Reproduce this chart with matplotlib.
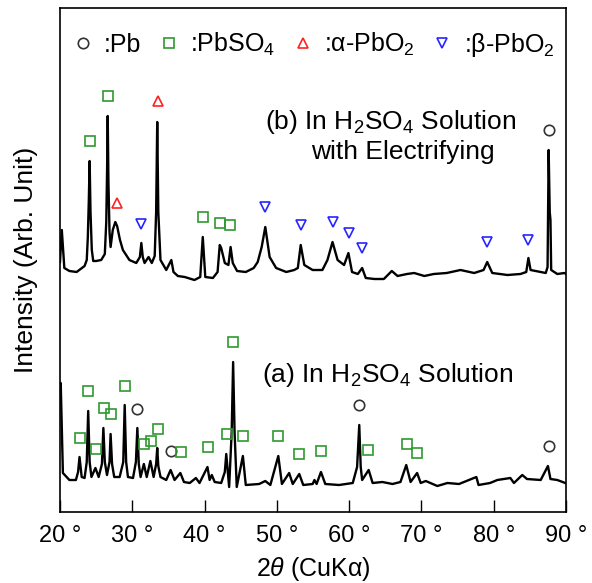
#
# XRD patterns of lead electrode: (a) in H2SO4, (b) in H2SO4 with electrifying
#

import numpy as np
import matplotlib
matplotlib.use('Agg')
import matplotlib.pyplot as plt

plt.rcParams['font.family'] = ['Liberation Sans', 'DejaVu Sans']
plt.rcParams['mathtext.fontset'] = 'custom'
plt.rcParams['mathtext.rm'] = 'Liberation Sans'
plt.rcParams['mathtext.it'] = 'Liberation Sans:italic'

# ---------------------------------------------------------------
# trace (b): In H2SO4 solution with electrifying (2theta, intensity)
# ---------------------------------------------------------------
b_theta = [20.0, 20.25, 20.6, 21.3, 22.3, 23.4, 23.7, 23.85, 23.98, 24.1, 24.22, 24.4, 24.6,
           25.0, 25.7, 26.2, 26.4, 26.52, 26.6, 26.7, 26.85, 27.0, 27.3, 27.65, 27.9, 28.3,
           28.7, 29.6, 30.55, 31.05, 31.25, 31.45, 31.7, 32.25, 32.7, 33.1, 33.3, 33.45, 33.6,
           33.9, 34.7, 35.4, 35.7, 36.3, 37.25, 38.6, 39.4, 39.75, 40.1, 41.15, 41.8, 42.1,
           42.3, 42.8, 43.3, 43.6, 43.9, 44.5, 45.7, 46.8, 47.35, 47.9, 48.4, 49.0, 49.9,
           51.3, 52.4, 52.9, 53.3, 53.8, 54.95, 56.3, 57.0, 57.7, 58.4, 59.3, 59.9, 60.4,
           61.2, 61.8, 62.3, 63.5, 64.8, 65.9, 66.7, 68.0, 69.0, 70.4, 71.7, 73.5, 75.4,
           77.3, 78.6, 79.1, 79.8, 81.9, 83.7, 84.5, 84.8, 85.1, 86.5, 87.2, 87.45, 87.6,
           87.75, 87.85, 87.95, 88.8, 89.8, 90.0]
b_int = [250, 282, 244, 241, 240, 246, 252, 275, 310, 351, 300, 262, 251,
         251, 252, 258, 290, 345, 396, 330, 280, 265, 282, 290, 286, 272,
         262, 252, 249, 255, 269, 255, 249, 255, 249, 256, 300, 390, 300,
         252, 242, 252, 240, 236, 235, 232, 235, 275, 235, 234, 240, 267,
         264, 249, 247, 265, 249, 241, 240, 244, 250, 265, 285, 255, 244,
         240, 242, 244, 267, 247, 242, 242, 252, 270, 252, 247, 259, 240,
         238, 244, 234, 233, 233, 241, 236, 238, 239, 236, 238, 239, 242,
         239, 242, 250, 239, 237, 238, 240, 254, 242, 240, 239, 245, 362,
         300, 292, 242, 238, 239, 238]

# ---------------------------------------------------------------
# trace (a): In H2SO4 solution (2theta, intensity)
# ---------------------------------------------------------------
a_theta = [20.0, 20.1, 20.4, 21.3, 22.2, 22.5, 22.7, 23.0, 23.4, 23.7, 23.9, 24.1, 24.35,
           24.9, 25.35, 25.8, 26.0, 26.2, 26.5, 26.85, 27.0, 27.2, 27.5, 28.25, 28.75, 28.95,
           29.15, 29.4, 30.1, 30.5, 30.7, 30.9, 31.15, 31.6, 32.0, 32.5, 32.95, 33.3, 33.45,
           33.6, 33.9, 34.7, 35.3, 35.85, 36.65, 37.15, 37.95, 38.8, 39.3, 40.4, 40.7, 41.0,
           41.4, 42.3, 42.8, 43.0, 43.4, 43.75, 43.95, 44.15, 44.45, 45.3, 45.7, 47.55, 48.4,
           49.1, 50.2, 50.7, 51.7, 52.2, 53.1, 53.65, 54.95, 55.2, 55.5, 56.1, 56.7, 58.6,
           60.5, 61.1, 61.4, 61.6, 61.8, 62.7, 63.25, 64.6, 66.0, 67.1, 67.9, 68.5, 69.4,
           69.9, 70.6, 72.2, 73.6, 75.2, 77.6, 77.9, 79.5, 80.5, 82.3, 82.8, 83.95, 84.6,
           86.5, 87.5, 87.85, 88.8, 89.9]
a_int = [120, 129, 39, 32, 32, 40, 55, 35, 34, 50, 101, 50, 35,
         44, 35, 48, 84, 50, 37, 50, 78, 48, 35, 35, 50, 107,
         50, 35, 34, 50, 84, 48, 35, 48, 35, 51, 35, 48, 64,
         46, 35, 32, 42, 32, 39, 30, 29, 34, 29, 45, 32, 37,
         30, 29, 40, 58, 25, 80, 150, 80, 25, 56, 27, 28, 31,
         27, 56, 28, 39, 28, 38, 27, 28, 32, 28, 40, 28, 27,
         29, 45, 87, 45, 32, 42, 29, 30, 28, 30, 47, 30, 39,
         29, 31, 26, 29, 28, 35, 27, 29, 32, 34, 29, 37, 33,
         32, 46, 33, 32, 29]

# ---------------------------------------------------------------
# phase markers (2theta, marker height)
# ---------------------------------------------------------------
b_pbso4_x = [24.15, 26.64, 39.74, 42.13, 43.55]
b_pbso4_y = [371, 416, 295, 289, 287]
b_alpha_x = [27.88, 33.51]
b_alpha_y = [309, 411]
b_beta_x = [31.2, 48.4, 53.3, 57.7, 59.97, 61.8, 79.06, 84.7]
b_beta_y = [288, 305, 287, 290, 279, 264, 270, 272]
b_pb_x = [87.6]
b_pb_y = [382]

a_pbso4_x = [22.72, 23.91, 24.98, 26.09, 27.05, 28.99, 31.66, 32.54, 33.51, 36.74,
             40.43, 43.06, 43.97, 45.35, 50.19, 53.1, 56.06, 62.6, 67.95, 69.42]
a_pbso4_y = [74, 121, 63, 104, 98, 126, 68, 71, 83, 60,
             65, 78, 170, 76, 76, 58, 61, 62, 68, 59]
a_pb_x = [30.69, 35.39, 61.4, 87.6]
a_pb_y = [103, 61, 107, 66]

xticks = [20, 30, 40, 50, 60, 70, 80, 90]
xtick_labels = ['20 °', '30 °', '40 °', '50 °', '60 °', '70 °', '80 °', '90 °']

GREEN = '#2f9a2f'
RED = '#ff2020'
BLUE = '#2525ff'
GREY = '#333333'

fig = plt.figure(figsize=(5.92, 5.83), dpi=100)
ax = fig.add_axes([60 / 592, 71 / 583, 506 / 592, 504 / 583])

ax.plot(b_theta, b_int, color='black', lw=1.7)
ax.plot(a_theta, a_int, color='black', lw=1.7)

mk = dict(linestyle='none', markerfacecolor='none', markersize=7.5, markeredgewidth=1.2)
ax.plot(b_pb_x + a_pb_x, b_pb_y + a_pb_y, marker='o', markeredgecolor=GREY, label=':Pb', **mk)
ax.plot(b_pbso4_x + a_pbso4_x, b_pbso4_y + a_pbso4_y, marker='s', markeredgecolor=GREEN,
        label=':PbSO$_4$', **mk)
ax.plot(b_alpha_x, b_alpha_y, marker='^', markeredgecolor=RED, label=':α-PbO$_2$', **mk)
ax.plot(b_beta_x, b_beta_y, marker='v', markeredgecolor=BLUE, label=':β-PbO$_2$', **mk)

ax.legend(loc='upper center', bbox_to_anchor=(0.5, 0.99), ncol=4, frameon=False,
          fontsize=18, handlelength=0.9, handletextpad=0.4, columnspacing=0.65,
          borderaxespad=0.3)

ax.text(65.8, 390, '(b) In H$_2$SO$_4$ Solution', fontsize=19, ha='center', va='center')
ax.text(67.4, 360, 'with Electrifying', fontsize=19, ha='center', va='center')
ax.text(65.4, 137, '(a) In H$_2$SO$_4$ Solution', fontsize=19, ha='center', va='center')

ax.set_xlim(20, 90)
ax.set_ylim(0, 504)
ax.set_xticks(xticks)
ax.set_xticklabels(xtick_labels, fontsize=17)
ax.set_yticks([])
ax.tick_params(axis='x', direction='in', length=9, width=1.0, pad=9)
for s in ax.spines.values():
    s.set_linewidth(1.2)

ax.set_xlabel('2$\\it{θ}$ (CuKα)', fontsize=18, labelpad=6)
ax.set_ylabel('Intensity (Arb. Unit)', fontsize=19, labelpad=16)

fig.savefig('out.png', dpi=100)
plt.close()
